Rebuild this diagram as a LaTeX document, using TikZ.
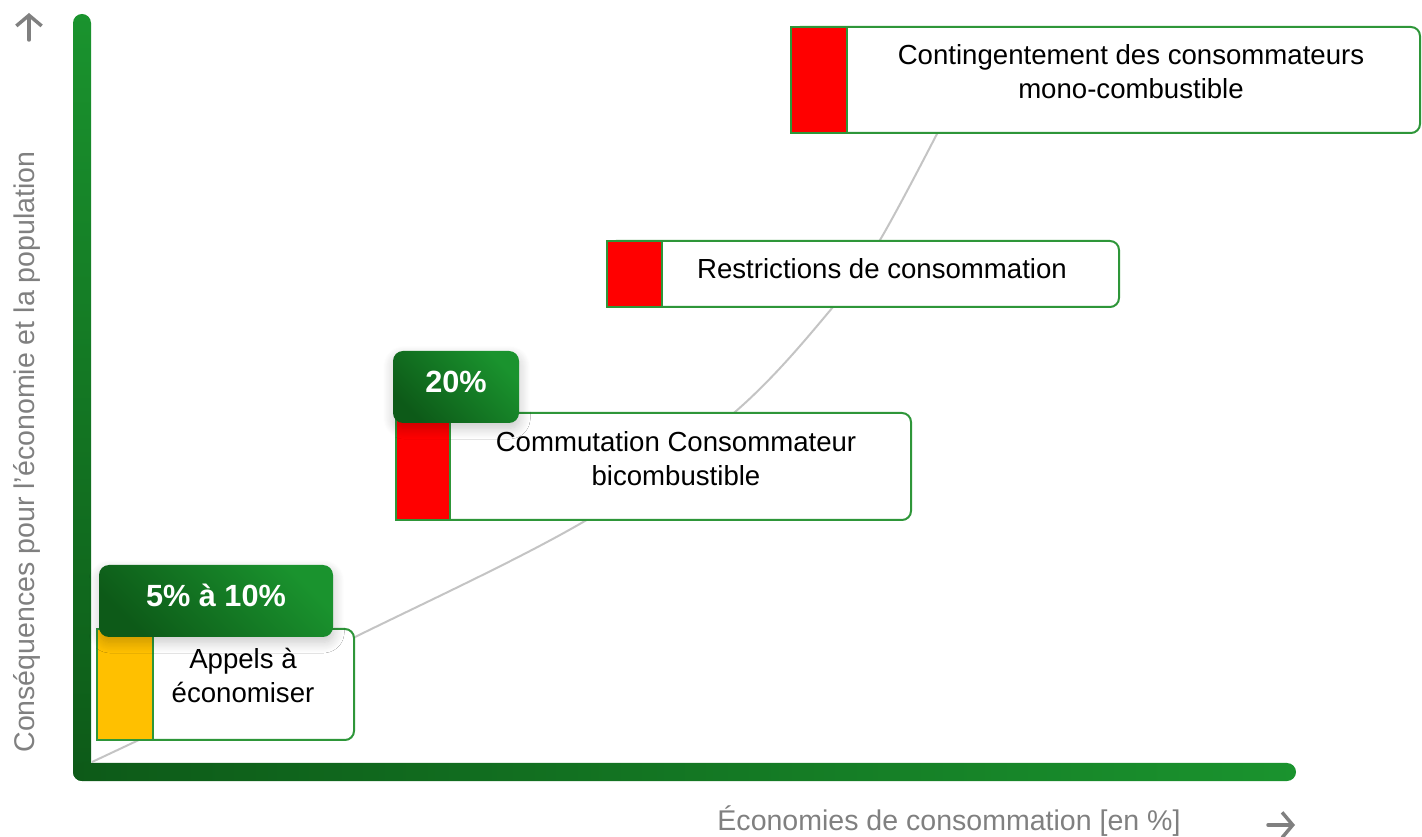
\documentclass[tikz,border=0pt]{standalone}
\usepackage{fontspec}
\setmainfont{Liberation Sans}
\usetikzlibrary{arrows.meta,shadows.blur}
\definecolor{ltg}{HTML}{1A932E}
\definecolor{dkg}{HTML}{0D5A18}
\definecolor{bordg}{HTML}{2E9639}
\definecolor{axgray}{HTML}{808080}
\definecolor{curvegray}{HTML}{C4C4C4}
\definecolor{warn}{HTML}{FFC000}
\definecolor{alert}{HTML}{FF0000}
\begin{document}
\begin{tikzpicture}[x=0.75pt,y=-0.75pt,
  panel/.style={draw=bordg, line width=1.5pt, fill=white, rounded corners=6.75pt, anchor=north west, inner sep=0pt, outer sep=0pt},
  strip/.style={draw=bordg, line width=1.5pt, anchor=north west, inner sep=0pt, outer sep=0pt},
  boxtext/.style={font=\fontsize{20.7}{25.5}\selectfont, align=center, inner sep=0pt},
  badge/.style={rounded corners=7.5pt, anchor=north west, inner sep=0pt, outer sep=0pt,
     bottom color=dkg, top color=ltg, shading angle=-45,
     blur shadow={shadow xshift=0.5pt, shadow yshift=-4pt, shadow blur radius=8pt, shadow blur steps=12, shadow opacity=22}},
  badgetext/.style={font=\bfseries\fontsize{23}{27}\selectfont, text=white, inner sep=0pt, anchor=base},
  axislabel/.style={font=\fontsize{21.4}{25}\selectfont, text=axgray, inner sep=0pt},
  tick/.style={draw=axgray, line width=2.6pt, line cap=round, -{Straight Barb[length=8pt, width=19pt]}},
  curve/.style={draw=curvegray, line width=1.5pt}
]
\useasboundingbox (0,0) rectangle (1422,837);

% axes
\shade[top color=ltg, bottom color=dkg, rounded corners=6.75pt] (73,14) rectangle (91,781);
\shade[left color=dkg, right color=ltg, rounded corners=6.75pt] (73,763) rectangle (1296,781);

% axis arrows
\coordinate (ua0) at (29,40);
\coordinate (ua1) at (29,13);
\draw[tick] (ua0) -- (ua1);
\coordinate (ra0) at (1268,825);
\coordinate (ra1) at (1295,825);
\draw[tick] (ra0) -- (ra1);

% axis labels
\node[axislabel, rotate=90] (ylab) at (27,452) {Conséquences pour l’économie et la population};
\node[axislabel] (xlab) at (949,821) {Économies de consommation [en \%]};

% curve
\draw[curve] plot[smooth, tension=0.6] coordinates {(92,762) (355,637) (590,518) (735,412) (833,307) (880,240) (940,128)};

% box 1
\node[panel, minimum width=192.75pt, minimum height=83.25pt] (p1) at (97,629) {};
\node[strip, fill=warn, minimum width=42pt, minimum height=83.25pt] (s1) at (97,629) {};
\node[boxtext] (t1) at (243,675) {Appels à\\économiser};

% box 2
\node[panel, minimum width=386.25pt, minimum height=80.25pt] (p2) at (396,413) {};
\node[strip, fill=alert, minimum width=40.5pt, minimum height=80.25pt] (s2) at (396,413) {};
\node[boxtext] (t2) at (676,459) {Commutation Consommateur\\bicombustible};

% box 3
\node[panel, minimum width=384pt, minimum height=49.5pt] (p3) at (607,241) {};
\node[strip, fill=alert, minimum width=41.25pt, minimum height=49.5pt] (s3) at (607,241) {};
\node[boxtext] (t3) at (882,269) {Restrictions de consommation};

% box 4
\node[panel, minimum width=471.75pt, minimum height=79.5pt] (p4) at (791,27) {};
\node[strip, fill=alert, minimum width=42pt, minimum height=79.5pt] (s4) at (791,27) {};
\node[boxtext] (t4) at (1131,72) {Contingentement des consommateurs\\mono-combustible};

% badges
\node[badge, minimum width=175.5pt, minimum height=54pt] (b1) at (99,565) {};
\node[badgetext] (bt1) at (216,607) {5\% à 10\%};
\node[badge, minimum width=94.5pt, minimum height=54pt] (b2) at (393,351) {};
\node[badgetext] (bt2) at (456,393) {20\%};
\end{tikzpicture}
\end{document}
